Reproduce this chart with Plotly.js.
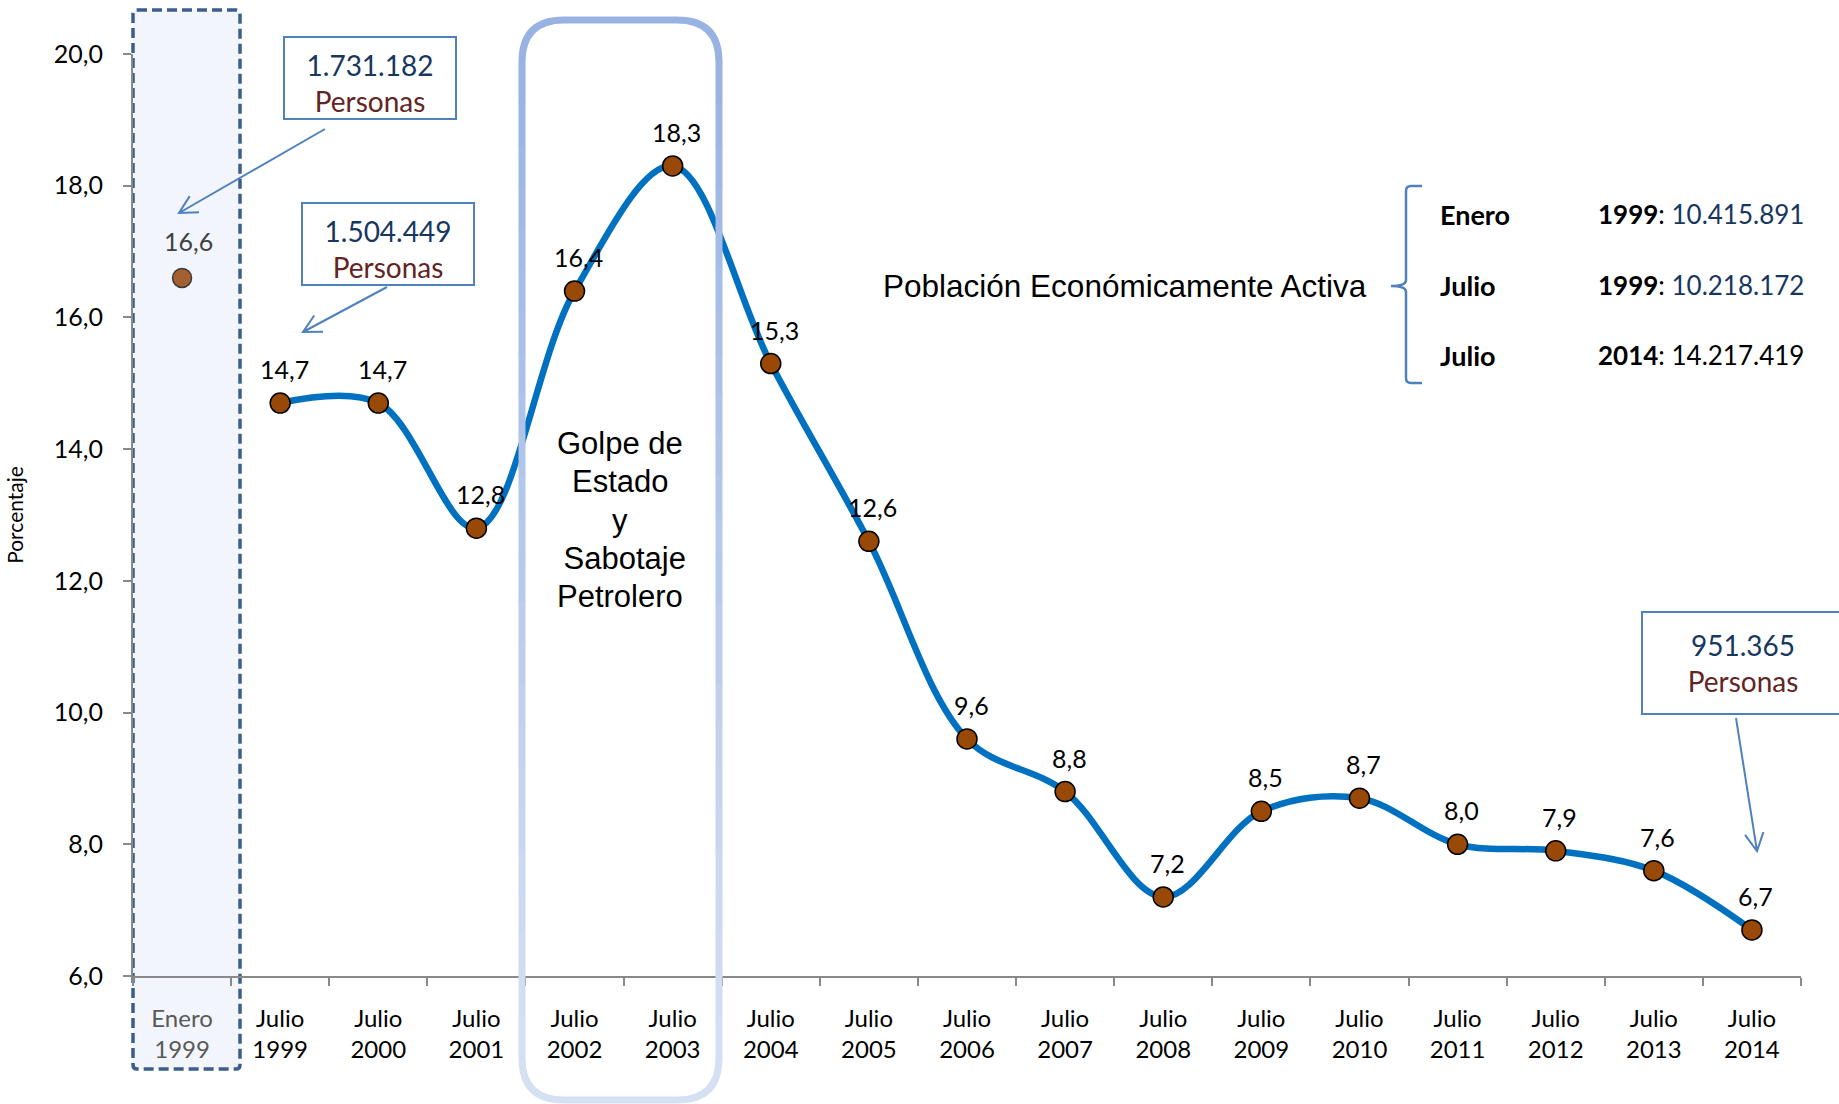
<!DOCTYPE html>
<html>
<head>
<meta charset="utf-8">
<script src="https://cdn.plot.ly/plotly-3.0.1.min.js"></script>
<style>
  html, body { margin: 0; padding: 0; background: #ffffff; }
  #chart { width: 1839px; height: 1104px; }
</style>
</head>
<body>
<div id="chart"></div>
<script>
// ---------------- DATA ----------------
const categories = ["Enero 1999", "Julio 1999", "Julio 2000", "Julio 2001", "Julio 2002", "Julio 2003",
  "Julio 2004", "Julio 2005", "Julio 2006", "Julio 2007", "Julio 2008", "Julio 2009",
  "Julio 2010", "Julio 2011", "Julio 2012", "Julio 2013", "Julio 2014"];
const tickLabels = ["Enero<br>1999", "Julio<br>1999", "Julio<br>2000", "Julio<br>2001", "Julio<br>2002",
  "Julio<br>2003", "Julio<br>2004", "Julio<br>2005", "Julio<br>2006", "Julio<br>2007", "Julio<br>2008",
  "Julio<br>2009", "Julio<br>2010", "Julio<br>2011", "Julio<br>2012", "Julio<br>2013", "Julio<br>2014"];
const eneroCategory = ["Enero 1999"];
const eneroValue = [16.6];
const julioCategories = categories.slice(1);
const julioValues = [14.7, 14.7, 12.8, 16.4, 18.3, 15.3, 12.6, 9.6, 8.8, 7.2, 8.5, 8.7, 8.0, 7.9, 7.6, 6.7];
const personasLabels = ["1.731.182", "1.504.449", "951.365"];
const peaPeriods = ["Enero", "Julio", "Julio"];
const peaYears = ["1999", "1999", "2014"];
const peaValues = ["10.415.891", "10.218.172", "14.217.419"];
const yTitle = "Porcentaje";
const eventLines = ["Golpe de", "Estado", "y", " Sabotaje", "Petrolero"];
const peaTitle = "Población Económicamente Activa";

// ---------------- LAYOUT HELPERS ----------------
const W = 1839, H = 1104;
const M = { l: 133, r: 38, t: 54, b: 128 };
const PW = W - M.l - M.r, PH = H - M.t - M.b;
const px = x => (x - M.l) / PW;
const py = y => (H - M.b - y) / PH;
const pt = (x, y) => px(x).toFixed(5) + "," + py(y).toFixed(5);

const CAL = "Lato, 'Open Sans', sans-serif";
const ARIAL = "'Liberation Sans', Arial, sans-serif";
const fmt = v => v.toFixed(1).replace(".", ",");

const tickText = tickLabels.map((t, i) => i === 0 ? '<span style="color:#595959">' + t + '</span>' : t);

const shapes = [];
const annotations = [];

// dashed box around Enero 1999
shapes.push({
  type: "path", xref: "paper", yref: "paper", layer: "below",
  path: "M" + pt(137, 10) + " L" + pt(236, 10) + " Q" + pt(240, 10) + " " + pt(240, 14) +
        " L" + pt(240, 1065) + " Q" + pt(240, 1069) + " " + pt(236, 1069) +
        " L" + pt(137, 1069) + " Q" + pt(133, 1069) + " " + pt(133, 1065) +
        " L" + pt(133, 14) + " Q" + pt(133, 10) + " " + pt(137, 10) + " Z",
  fillcolor: "#F2F6FC",
  line: { color: "#3B5E8C", width: 3.5, dash: "10px,5px" }
});

// rounded box with vertical gradient
(function () {
  const L = 522, R = 719, T = 20, B = 1100, r = 42, N = 24;
  const c0 = [152, 179, 227], c1 = [214, 224, 243];
  const col = f => "rgb(" + c0.map((c, k) => Math.round(c + (c1[k] - c) * f)).join(",") + ")";
  shapes.push({
    type: "path", xref: "paper", yref: "paper", layer: "above",
    path: "M" + pt(L, T + r) + " Q" + pt(L, T) + " " + pt(L + r, T) + " L" + pt(R - r, T) +
          " Q" + pt(R, T) + " " + pt(R, T + r),
    line: { color: col(0), width: 7 }
  });
  shapes.push({
    type: "path", xref: "paper", yref: "paper", layer: "above",
    path: "M" + pt(L, B - r) + " Q" + pt(L, B) + " " + pt(L + r, B) + " L" + pt(R - r, B) +
          " Q" + pt(R, B) + " " + pt(R, B - r),
    line: { color: col(1), width: 7 }
  });
  for (let i = 0; i < N; i++) {
    const ya = T + r + (B - T - 2 * r) * i / N - 0.5;
    const yb = T + r + (B - T - 2 * r) * (i + 1) / N + 0.5;
    const c = col((i + 0.5) / N);
    [L, R].forEach(x => shapes.push({
      type: "line", xref: "paper", yref: "paper", layer: "above",
      x0: px(x), x1: px(x), y0: py(ya), y1: py(yb),
      line: { color: c, width: 7 }
    }));
  }
})();

// arrows with open heads
function arrow(x1, y1, x2, y2) {
  const ang = Math.atan2(y1 - y2, x1 - x2), len = 20, spread = Math.PI / 6.5;
  const a = [x2 + len * Math.cos(ang + spread), y2 + len * Math.sin(ang + spread)];
  const b = [x2 + len * Math.cos(ang - spread), y2 + len * Math.sin(ang - spread)];
  shapes.push({
    type: "path", xref: "paper", yref: "paper", layer: "above",
    path: "M" + pt(x1, y1) + " L" + pt(x2, y2) + " M" + pt(a[0], a[1]) + " L" + pt(x2, y2) + " L" + pt(b[0], b[1]),
    line: { color: "#4F81BD", width: 2 }
  });
}
arrow(325, 129, 179, 213);
arrow(387, 287, 303, 332);
arrow(1736, 718, 1757, 851);

// brace
shapes.push({
  type: "path", xref: "paper", yref: "paper", layer: "above",
  path: "M" + pt(1422, 186) + " L" + pt(1411, 186) + " Q" + pt(1406, 186) + " " + pt(1406, 191) +
        " L" + pt(1406, 280) + " Q" + pt(1406, 286) + " " + pt(1391, 286) +
        " Q" + pt(1406, 286) + " " + pt(1406, 292) + " L" + pt(1406, 378) +
        " Q" + pt(1406, 383) + " " + pt(1411, 383) + " L" + pt(1422, 383),
  line: { color: "#4F81BD", width: 2.5 }
});

// Personas boxes
function personasBox(label, cx, cy, w, h, valign) {
  annotations.push({
    xref: "paper", yref: "paper", x: px(cx), y: py(cy), xanchor: "center", yanchor: "middle",
    showarrow: false, width: w, height: h, valign: valign, align: "center",
    bordercolor: "#4F81BD", borderwidth: 2, borderpad: 0, bgcolor: "#ffffff",
    text: '<span style="color:#17375E">' + label + '</span><br><span style="color:#632523">Personas</span>',
    font: { family: CAL, size: 28 }
  });
}
personasBox(personasLabels[0], 370, 78, 170, 80, "bottom");
personasBox(personasLabels[1], 388, 244, 170, 80, "bottom");
personasBox(personasLabels[2], 1743, 663, 200, 100, "middle");

// event text, one line per annotation
eventLines.forEach((ln, i) => annotations.push({
  xref: "paper", yref: "paper", x: px(620), y: py(520 + (i - 2) * 38.4), xanchor: "center", yanchor: "middle",
  showarrow: false, text: ln, font: { family: ARIAL, size: 31, color: "#000000" }
}));

// PEA block
annotations.push({
  xref: "paper", yref: "paper", x: px(881), y: py(286), xanchor: "left", yanchor: "middle",
  showarrow: false, text: peaTitle, font: { family: ARIAL, size: 31.5, color: "#000000" }
});
const rowY = [214, 285, 355];
const valColors = ["#17375E", "#17375E", "#000000"];
peaPeriods.forEach((p, i) => {
  annotations.push({
    xref: "paper", yref: "paper", x: px(1438), y: py(rowY[i]), xanchor: "left", yanchor: "middle",
    showarrow: false, text: "<b>" + p + "</b>", font: { family: CAL, size: 27, color: "#000000" }
  });
  annotations.push({
    xref: "paper", yref: "paper", x: px(1806), y: py(rowY[i]), xanchor: "right", yanchor: "middle",
    showarrow: false,
    text: "<b>" + peaYears[i] + "</b>: <span style=\"color:" + valColors[i] + "\">" + peaValues[i] + "</span>",
    font: { family: CAL, size: 26, color: "#000000" }
  });
});

// data labels
eneroCategory.forEach((c, i) => annotations.push({
  x: c, y: eneroValue[i], xref: "x", yref: "y", showarrow: false, yshift: 37, xshift: 6,
  text: fmt(eneroValue[i]), font: { family: CAL, size: 25, color: "#404040" }
}));
julioCategories.forEach((c, i) => annotations.push({
  x: c, y: julioValues[i], xref: "x", yref: "y", showarrow: false, yshift: 34, xshift: 4,
  text: fmt(julioValues[i]), font: { family: CAL, size: 25, color: "#000000" }
}));

// ---------------- TRACES ----------------
const traces = [
  {
    type: "scatter", mode: "markers", x: eneroCategory, y: eneroValue,
    marker: { size: 19, color: "#A5602F", line: { color: "#3A3A3A", width: 1.5 } },
    hoverinfo: "skip", cliponaxis: false
  },
  {
    type: "scatter", mode: "lines+markers", x: julioCategories, y: julioValues,
    line: { shape: "spline", smoothing: 1.0, color: "#0070C0", width: 6.5 },
    marker: { size: 20, color: "#984807", line: { color: "#000000", width: 1.5 } },
    hoverinfo: "skip", cliponaxis: false
  }
];

const layout = {
  width: W, height: H,
  margin: M,
  paper_bgcolor: "#ffffff", plot_bgcolor: "rgba(0,0,0,0)",
  showlegend: false,
  separators: ",.",
  xaxis: {
    type: "category", categoryorder: "array", categoryarray: categories,
    range: [-0.5, categories.length - 0.5],
    tickvals: categories, ticktext: tickText,
    tickson: "boundaries", ticks: "outside", ticklen: 8, tickwidth: 2, tickcolor: "#898989",
    showline: true, linecolor: "#898989", linewidth: 2,
    showgrid: false, zeroline: false,
    tickfont: { family: CAL, size: 24, color: "#000000" },
    ticklabelstandoff: 20,
    fixedrange: true
  },
  yaxis: {
    range: [6, 20], dtick: 2, tick0: 6, tickformat: ".1f",
    ticks: "outside", ticklen: 8, tickwidth: 2, tickcolor: "#898989",
    showline: true, linecolor: "#898989", linewidth: 2,
    showgrid: false, zeroline: false,
    tickfont: { family: CAL, size: 25, color: "#000000" },
    ticklabelstandoff: 15,
    title: { text: yTitle, font: { family: CAL, size: 21, color: "#000000" }, standoff: 24 },
    fixedrange: true
  },
  shapes: shapes,
  annotations: annotations,
  hovermode: false
};

Plotly.newPlot("chart", traces, layout, { staticPlot: true, displayModeBar: false });
</script>
</body>
</html>
